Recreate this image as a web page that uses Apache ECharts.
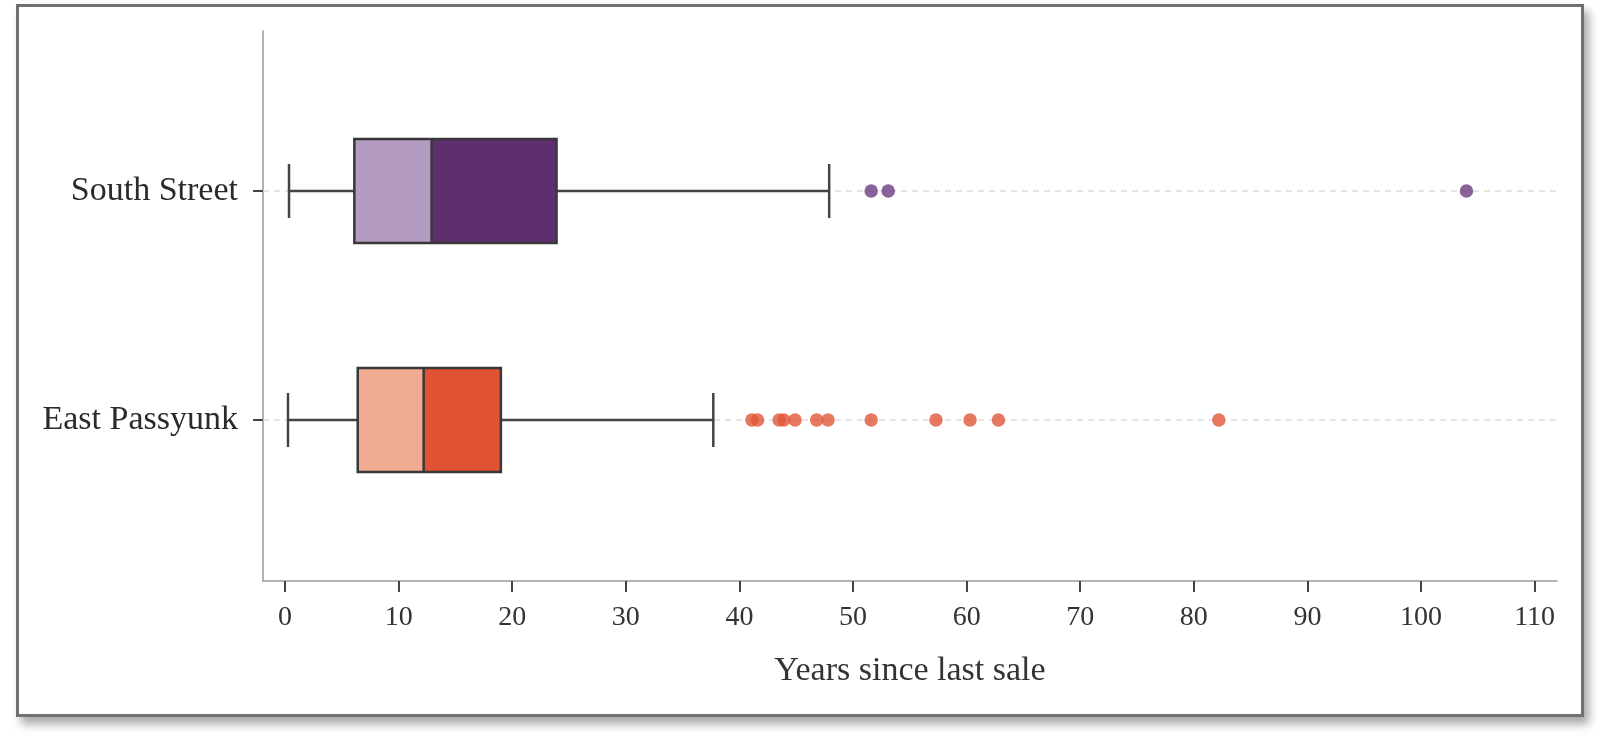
<!DOCTYPE html>
<html>
<head>
<meta charset="utf-8">
<script src="https://cdn.jsdelivr.net/npm/echarts@6/dist/echarts.min.js"></script>
<style>
  html, body { margin: 0; padding: 0; background: #fff; }
  #frame {
    position: absolute; left: 16px; top: 4px; width: 1562px; height: 707px;
    border: 3px solid #707070; background: #fff;
    box-shadow: 5px 7px 9px rgba(0, 0, 0, 0.35);
  }
  #main { position: absolute; left: 0; top: 0; width: 1600px; height: 744px; }
</style>
</head>
<body>
<div id="frame"></div>
<div id="main"></div>
<script>
// data
var categories = ['South Street', 'East Passyunk'];
var whiskerLow = [0.35, 0.26];
var q1 = [6.1, 6.4];
var medians = [12.9, 12.2];
var q3 = [23.9, 19.0];
var whiskerHigh = [47.9, 37.7];
var southOutliers = [51.6, 53.1, 104.0];
var eastOutliers = [41.1, 41.6, 43.5, 43.9, 44.9, 46.8, 47.8, 51.6, 57.3, 60.3, 62.8, 82.2];
var xTicks = [0, 10, 20, 30, 40, 50, 60, 70, 80, 90, 100, 110];

var lightColors = ['#b39bc2', '#f0ab93'];
var darkColors = ['#5f2e6e', '#e05232'];
var dotColors = ['#6c3b7f', '#e2583a'];

var serif = '"Liberation Serif", "DejaVu Serif", serif';
var xMin = -1.94, xMax = 111.97;

var boxData = categories.map(function (c, i) {
    return [i, whiskerLow[i], q1[i], medians[i], q3[i], whiskerHigh[i]];
});

function renderBox(params, api) {
    var i = api.value(0);
    var y = api.coord([0, i])[1];
    var band = api.size([0, 1])[1];
    var boxH = band * 0.455;
    var capH = band * 0.236;
    var px = function (v) { return api.coord([v, i])[0]; };
    var xl = px(api.value(1)), x1 = px(api.value(2)), xm = px(api.value(3));
    var x3 = px(api.value(4)), xh = px(api.value(5));
    var cs = params.coordSys;
    var edge = { stroke: '#383838', lineWidth: 2.5 };
    var whisk = { stroke: '#444', lineWidth: 2.5 };
    return {
        type: 'group',
        children: [
            { type: 'line', shape: { x1: cs.x, y1: y, x2: cs.x + cs.width, y2: y },
              style: { stroke: '#dddddd', lineWidth: 1.5, lineDash: [6, 5] } },
            { type: 'line', shape: { x1: xl, y1: y, x2: x1, y2: y }, style: whisk },
            { type: 'line', shape: { x1: x3, y1: y, x2: xh, y2: y }, style: whisk },
            { type: 'line', shape: { x1: xl, y1: y - capH / 2, x2: xl, y2: y + capH / 2 }, style: whisk },
            { type: 'line', shape: { x1: xh, y1: y - capH / 2, x2: xh, y2: y + capH / 2 }, style: whisk },
            { type: 'rect', shape: { x: x1, y: y - boxH / 2, width: xm - x1, height: boxH },
              style: { fill: lightColors[i] } },
            { type: 'rect', shape: { x: xm, y: y - boxH / 2, width: x3 - xm, height: boxH },
              style: { fill: darkColors[i] } },
            { type: 'rect', shape: { x: x1, y: y - boxH / 2, width: x3 - x1, height: boxH },
              style: { fill: 'none', stroke: edge.stroke, lineWidth: edge.lineWidth } },
            { type: 'line', shape: { x1: xm, y1: y - boxH / 2, x2: xm, y2: y + boxH / 2 }, style: edge }
        ]
    };
}

var myChart = echarts.init(document.getElementById('main'), null, { renderer: 'canvas' });
myChart.setOption({
    backgroundColor: 'transparent',
    animation: false,
    grid: [
        { left: 263, right: 43, top: 31, bottom: 163 },
        { left: 263, right: 43, top: 76.5, bottom: 209.5 }
    ],
    xAxis: [
        {
            type: 'value', gridIndex: 0, min: xMin, max: xMax,
            axisLine: { show: true, onZero: false, lineStyle: { color: '#9a9a9a', width: 1.5 } },
            axisTick: { show: true, customValues: xTicks, length: 11, lineStyle: { color: '#444', width: 2 } },
            axisLabel: { customValues: xTicks, fontSize: 28, color: '#333', fontFamily: serif, margin: 23 },
            splitLine: { show: false },
            name: 'Years since last sale',
            nameLocation: 'middle',
            nameGap: 73,
            nameTextStyle: { fontSize: 34, color: '#333', fontFamily: serif }
        },
        {
            type: 'value', gridIndex: 1, min: xMin, max: xMax, show: false
        }
    ],
    yAxis: [
        {
            type: 'value', gridIndex: 0, min: 0, max: 1,
            axisLine: { show: true, onZero: false, lineStyle: { color: '#9a9a9a', width: 1.5 } },
            axisTick: { show: false },
            axisLabel: { show: false },
            splitLine: { show: false }
        },
        {
            type: 'category', gridIndex: 1, data: categories, inverse: true,
            axisLine: { show: false, onZero: false },
            axisTick: { show: true, alignWithLabel: true, length: 10, lineStyle: { color: '#444', width: 2 } },
            axisLabel: { fontSize: 34, color: '#2b2b2b', fontFamily: serif, margin: 25 },
            splitLine: { show: false }
        }
    ],
    series: [
        {
            type: 'custom', xAxisIndex: 1, yAxisIndex: 1,
            renderItem: renderBox,
            encode: { x: [1, 2, 3, 4, 5], y: 0 },
            data: boxData, z: 2
        },
        {
            type: 'scatter', xAxisIndex: 1, yAxisIndex: 1, symbolSize: 13.5, z: 3,
            itemStyle: { color: dotColors[0] },
            data: southOutliers.map(function (v) { return [v, 0]; })
        },
        {
            type: 'scatter', xAxisIndex: 1, yAxisIndex: 1, symbolSize: 13.5, z: 3,
            itemStyle: { color: dotColors[1] },
            data: eastOutliers.map(function (v) { return [v, 1]; })
        }
    ]
});
</script>
</body>
</html>
